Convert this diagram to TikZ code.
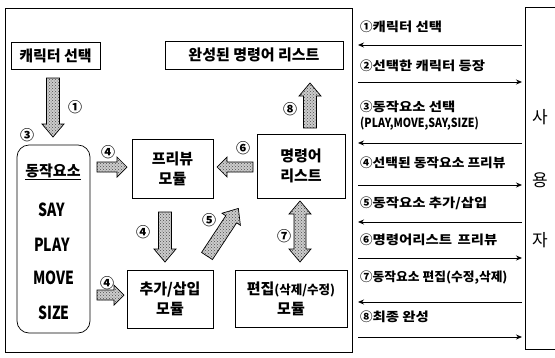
\documentclass[tikz,border=0pt]{standalone}
\usepackage{fontspec}
\usepackage{graphicx}
\setmainfont{Noto Sans CJK KR}
\usetikzlibrary{patterns,arrows.meta}
\newcommand\hs[2]{\scalebox{#1}[1]{#2}}
\begin{document}
\begin{tikzpicture}[x=1pt,y=-1pt,
  box/.style={draw, line width=0.7pt, inner sep=0pt, align=center},
  btxt/.style={font=\fontsize{15}{20}\selectfont\bfseries},
  lab/.style={font=\fontsize{14}{14}\selectfont\bfseries, inner sep=0pt},
  latin/.style={font=\fontsize{18}{18}\selectfont\bfseries, inner sep=0pt},
  rtxt/.style={anchor=west, inner sep=0pt, font=\fontsize{12.5}{14}\selectfont\bfseries},
  msg/.style={line width=0.8pt, -{Stealth[length=6pt,width=5pt]}},
  blkstyle/.style={draw, line width=0.7pt, preaction={fill=gray!40}, pattern=crosshatch dots, pattern color=gray!60!black},
  pics/blk/.style={code={\draw[blkstyle] (0,-6.5) -- (#1-13,-6.5) -- (#1-13,-11) -- (#1,0) -- (#1-13,11) -- (#1-13,6.5) -- (0,6.5) -- cycle;}},
  pics/sblk/.style={code={\draw[blkstyle] (0,-5) -- (#1-10,-5) -- (#1-10,-10) -- (#1,0) -- (#1-10,10) -- (#1-10,5) -- (0,5) -- cycle;}},
  pics/dblk/.style={code={\draw[blkstyle] (13,-6) -- (#1-13,-6) -- (#1-13,-11) -- (#1,0) -- (#1-13,11) -- (#1-13,6) -- (13,6) -- (13,11) -- (0,0) -- (13,-11) -- cycle;}}
]
\useasboundingbox (0,0) rectangle (555,357);
% frames
\node[draw, line width=0.7pt, minimum width=347, minimum height=344, inner sep=0pt] (frame) at (178.5,180) {};
\draw[line width=0.7pt] (560,7) -- (525,7) -- (525,349) -- (560,349);
\node[font=\fontsize{17}{17}\selectfont, inner sep=0pt] (sa) at (540,117) {사};
\node[font=\fontsize{17}{17}\selectfont, inner sep=0pt] (yong) at (540,180) {용};
\node[font=\fontsize{17}{17}\selectfont, inner sep=0pt] (ja) at (540,240) {자};

% boxes
\node[box, btxt, minimum width=89, minimum height=27] (cs) at (55.5,56) {캐릭터 선택};
\node[box, btxt, minimum width=178, minimum height=28] (done) at (254,55) {완성된 명령어 리스트};
\node[box, draw, rounded corners=12pt, minimum width=73, minimum height=188] (elem) at (53.5,239) {};
\node[inner sep=0pt, font=\fontsize{15}{15}\selectfont\bfseries] (elemt) at (53,172) {\underline{동작요소}};
\node[latin] (say) at (52,210) {\hs{0.78}{SAY}};
\node[latin] (play) at (52,245) {\hs{0.78}{PLAY}};
\node[latin] (move) at (54,278) {\hs{0.78}{MOVE}};
\node[latin] (size) at (54,313) {\hs{0.78}{SIZE}};
\node[box, btxt, minimum width=81, minimum height=59] (prev) at (172.5,168.5) {프리뷰\\모듈};
\node[box, btxt, minimum width=88, minimum height=64] (cmd) at (301,166) {명령어\\리스트};
\node[box, btxt, minimum width=86, minimum height=58] (add) at (170,299) {추가/삽입\\모듈};
\node[box, btxt, minimum width=112, minimum height=57] (edit) at (291,298.5) {편집{\fontsize{12.5}{14}\selectfont(삭제/수정)}\\모듈};

% block arrows
\pic[rotate=-90] at (53,78) {blk=59};
\node[lab] (l1) at (75,107) {①};
\node[lab] (l3) at (27,135) {③};
\pic at (97,167) {sblk=30};
\node[lab] (l4a) at (108,152) {④};
\pic[rotate=180] at (253,167) {sblk=36};
\node[lab] (l6) at (243,148) {⑥};
\pic[rotate=90] at (310,128) {blk=45};
\node[lab] (l8) at (290,109) {⑧};
\pic[rotate=-90] at (165,212) {blk=50};
\node[lab] (l4b) at (143,232) {④};
\pic[rotate=56.6] at (207,256) {blk=57};
\node[lab] (l5) at (209,220) {⑤};
\pic at (97,295) {sblk=27};
\node[lab] (l4c) at (107,283) {④};
\pic[rotate=90] at (300,262) {dblk=61};
\node[lab] (l7) at (284,236) {⑦};

% right panel messages
\node[rtxt] (m1) at (360,27) {①\hs{1.15}{캐릭터 선택}};
\node[rtxt] (m2) at (360,66) {②\hs{1.15}{선택한 캐릭터 등장}};
\node[rtxt] (m3) at (360,107) {③\hs{1.15}{동작요소 선택}};
\node[rtxt] (m3b) at (360,124) {\hs{0.85}{(PLAY,MOVE,SAY,SIZE)}};
\node[rtxt] (m4) at (360,163) {④\hs{1.1}{선택된 동작요소 프리뷰}};
\node[rtxt] (m5) at (360,203) {⑤\hs{1.15}{동작요소 추가/삽입}};
\node[rtxt] (m6) at (360,240) {⑥\hs{1.15}{명령어리스트 \,프리뷰}};
\node[rtxt] (m7) at (360,278) {⑦\hs{1.02}{동작요소 편집(수정,삭제)}};
\node[rtxt] (m8) at (360,317) {⑧\hs{1.15}{최종 완성}};
\foreach \n/\y in {1/45,2/82,3/143,4/185,5/222,6/258,7/302,8/337}{
  \coordinate (a\n) at (358,\y);
  \coordinate (b\n) at (522,\y);
}
\draw[msg] (b1) -- (a1);
\draw[msg] (a2) -- (b2);
\draw[msg] (b3) -- (a3);
\draw[msg] (a4) -- (b4);
\draw[msg] (b5) -- (a5);
\draw[msg] (a6) -- (b6);
\draw[msg] (b7) -- (a7);
\draw[msg] (a8) -- (b8);
\end{tikzpicture}
\end{document}
